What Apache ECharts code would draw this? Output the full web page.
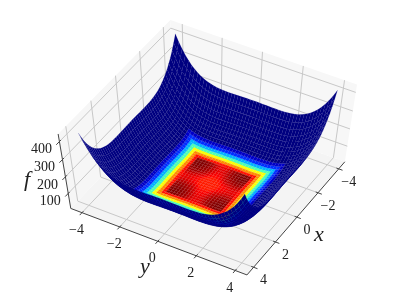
<!DOCTYPE html>
<html><head><meta charset="utf-8">
<style>html,body{margin:0;padding:0;background:#fff}#c{width:395px;height:306px}</style>
<script src="https://cdn.jsdelivr.net/npm/echarts@6/dist/echarts.min.js"></script>
</head><body><div id="c"></div>
<script>
// Values.
// Height of the well profile along one horizontal axis, x or y = -4 ... 4 in steps of 0.16.
// The surface height at a grid point is the sum of the profile at its x and at its y.
const gridX = [-4,-3.84,-3.68,-3.52,-3.36,-3.2,-3.04,-2.88,-2.72,-2.56,-2.4,-2.24,-2.08,-1.92,-1.76,-1.6,-1.44,-1.28,-1.12,-0.96,-0.8,-0.64,-0.48,-0.32,-0.16,0,0.16,0.32,0.48,0.64,0.8,0.96,1.12,1.28,1.44,1.6,1.76,1.92,2.08,2.24,2.4,2.56,2.72,2.88,3.04,3.2,3.36,3.52,3.68,3.84,4];
const wellProfile = [214,179,149,122,100,80,64,50,38.5,29.3,21.9,16.1,11.7,8.5,6.3,4.9,4.1,3.8,3.8,4.1,4.5,4.9,5.4,5.7,5.9,6,5.9,5.7,5.4,4.9,4.5,4.1,3.8,3.8,4.1,4.9,6.3,8.5,11.7,16.1,21.9,29.3,38.5,50,64,80,100,122,149,179,214];
// Colour level per face (0 dark red ... 1 navy, jet reversed), for faces centred at -3.92 ... 3.92.
const edgeLevel = [1,1,1,1,1,1,1,1,1,0.93,0.83,0.7,0.55,0.38,0.26,0.14,0,0,0,0,0,0,0,0,0,0,0,0,0,0,0,0,0,0,0.14,0.26,0.38,0.55,0.7,0.83,0.93,1,1,1,1,1,1,1,1,1];
const wellLevel = [0,0,0,0,0,0,0,0,0,0,0,0,0,0.1,0.06,0.02,0.005,0,0,0.01,0.02,0.035,0.06,0.085,0.1,0.1,0.085,0.06,0.035,0.02,0.01,0,0,0.005,0.02,0.06,0.1,0,0,0,0,0,0,0,0,0,0,0,0,0];
const centreCap = 0.15;
const xTicks = [-4,-2,0,2,4], yTicks = [-4,-2,0,2,4], zTicks = [100,200,300,400];
const axisNames = ['x','y','f'];

const LIM = 4.6, ZMIN = 6, ZMAX = 441;
const az = 30*Math.PI/180, el = 60*Math.PI/180;
const sa=Math.sin(az),ca=Math.cos(az),se=Math.sin(el),ce=Math.cos(el);
function view(x,y,z){
  const cx=(x+LIM)/(2*LIM)-.5, cy=(y+LIM)/(2*LIM)-.5, cz=(z-ZMIN)/(ZMAX-ZMIN)-.5;
  const r=-sa*cx+ca*cy, u=-se*ca*cx-se*sa*cy+ce*cz, d=ce*ca*cx+ce*sa*cy+se*cz, f=10/(10-d);
  return {p:[209+r*f*209.3, 148.6-u*f*151.5], d:d};
}
function jetR(v){
  const t=1-v, c=(a)=>Math.round(255*Math.max(0,Math.min(1,a)));
  return 'rgb('+c(Math.min(4*t-1.5,-4*t+4.5))+','+c(Math.min(4*t-.5,-4*t+3.5))+','+c(Math.min(4*t+.5,-4*t+2.5))+')';
}
const height=(i,j)=>wellProfile[i]+wellProfile[j];

// faces, far to near
const faces=[];
for(let i=0;i<gridX.length-1;i++)for(let j=0;j<gridX.length-1;j++){
  const d=view((gridX[i]+gridX[i+1])/2,(gridX[j]+gridX[j+1])/2,(height(i,j)+height(i+1,j)+height(i,j+1)+height(i+1,j+1))/4).d;
  faces.push([i,j,d]);
}
faces.sort((a,b)=>a[2]-b[2]);

// panes, grid lines, axis lines
const A=LIM,T=ZMAX,B=ZMIN;
const panes=[
 [[[-A,-A,B],[A,-A,B],[A,A,B],[-A,A,B]],'#f4f4f4'],
 [[[-A,-A,B],[A,-A,B],[A,-A,T],[-A,-A,T]],'#f6f6f6'],
 [[[-A,-A,B],[-A,A,B],[-A,A,T],[-A,-A,T]],'#f7f7f7']];
const lines=[];
const GRID='#c8c8c8', AX='#444444';
xTicks.forEach(v=>{lines.push([[v,-A,B],[v,A,B],GRID,1]);lines.push([[v,-A,B],[v,-A,T],GRID,1]);});
yTicks.forEach(v=>{lines.push([[-A,v,B],[A,v,B],GRID,1]);lines.push([[-A,v,B],[-A,v,T],GRID,1]);});
zTicks.forEach(v=>{lines.push([[A,-A,v],[-A,-A,v],GRID,1]);lines.push([[-A,-A,v],[-A,A,v],GRID,1]);});
lines.push([[A,-A,B],[A,A,B],AX,1],[[A,A,B],[-A,A,B],AX,1],[[A,-A,B],[A,-A,T],AX,1]);
xTicks.forEach(v=>lines.push([[v,A-.12,B],[v,A+.2,B],AX,1]));
yTicks.forEach(v=>lines.push([[A-.12,v,B],[A+.2,v,B],AX,1]));
zTicks.forEach(v=>lines.push([[A-.12,-A,v],[A+.25,-A,v],AX,1]));

const label=t=>t<0?'\u2212'+(-t):String(t);
const texts=[];
xTicks.forEach(v=>{const p=view(v,A,B).p;texts.push([p[0]+10,p[1]+13.5,label(v),14,'normal']);});
yTicks.forEach(v=>{const p=view(A,v,B).p;texts.push([p[0]-5.5,p[1]+17.5,label(v),14,'normal']);});
zTicks.forEach(v=>{const p=view(A,-A,v).p;texts.push([p[0]-18,p[1]+8,label(v),14,'normal']);});
texts.push([319,235,axisNames[0],22,'italic'],[145,267,axisNames[1],22,'italic'],[27,180,axisNames[2],22,'italic']);

const base=(render,data,z)=>({type:'custom',coordinateSystem:'cartesian2d',data:data,renderItem:render,silent:true,animation:false,z:z,clip:false,
  encode:{x:[],y:[]}});
const chart=echarts.init(document.getElementById('c'),null,{renderer:'canvas'});
chart.setOption({
  animation:false,
  grid:{left:0,right:0,top:0,bottom:0},
  xAxis:{type:'value',min:0,max:395,show:false},
  yAxis:{type:'value',min:0,max:306,inverse:true,show:false},
  series:[
    base((p,api)=>{const q=panes[api.value(0)];return {type:'polygon',shape:{points:q[0].map(v=>api.coord(view(v[0],v[1],v[2]).p))},style:{fill:q[1]}};},panes.map((_,i)=>[i]),1),
    base((p,api)=>{const q=lines[api.value(0)];const a=api.coord(view(...q[0]).p),b=api.coord(view(...q[1]).p);
      return {type:'line',shape:{x1:a[0],y1:a[1],x2:b[0],y2:b[1]},style:{stroke:q[2],lineWidth:q[3]}};},lines.map((_,i)=>[i]),2),
    base((p,api)=>{const i=api.value(0),j=api.value(1);
      const c=[[i,j],[i+1,j],[i+1,j+1],[i,j+1]].map(k=>api.coord(view(gridX[k[0]],gridX[k[1]],height(k[0],k[1])).p));
      const inner=Math.min(centreCap,wellLevel[i]+wellLevel[j]);
      const col=jetR(Math.max(edgeLevel[i],edgeLevel[j],inner));
      return {type:'polygon',shape:{points:c},style:{fill:col,stroke:col,lineWidth:0.12}};},faces,3),
    base((p,api)=>{const q=texts[api.value(0)];const a=api.coord([q[0],q[1]]);
      return {type:'text',style:{x:a[0],y:a[1],text:q[2],fill:'#222',align:'center',verticalAlign:'middle',
        font:q[4]+' '+q[3]+'px "Liberation Serif"'}};},texts.map((_,i)=>[i]),4)
  ]
});
</script></body></html>
